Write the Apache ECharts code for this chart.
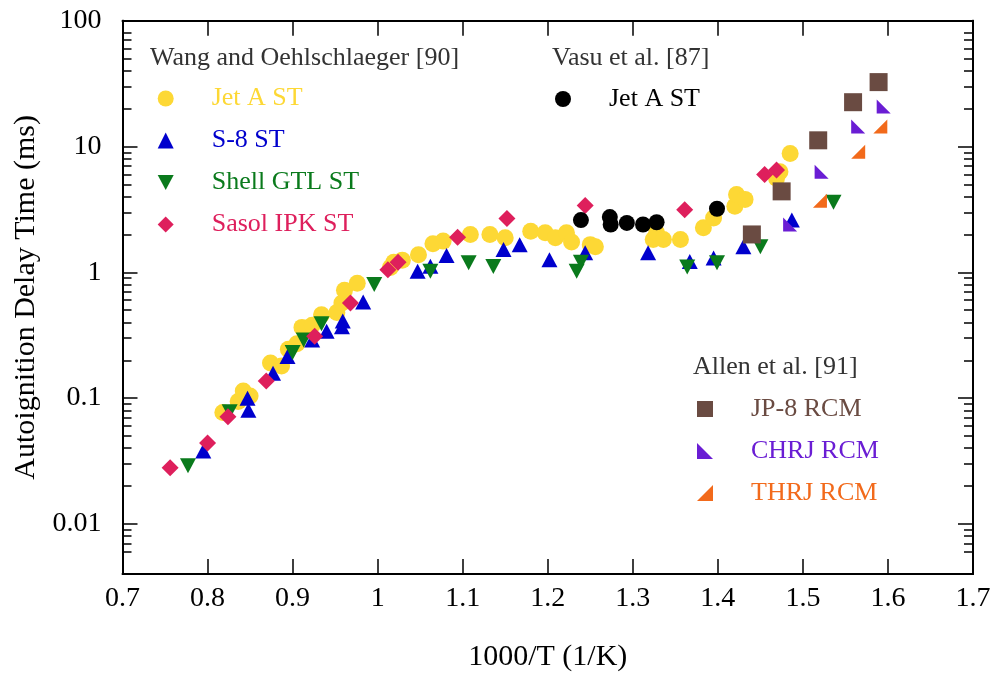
<!DOCTYPE html>
<html>
<head>
<meta charset="utf-8">
<script src="https://cdn.jsdelivr.net/npm/echarts@6/dist/echarts.min.js"></script>
<style>
  html, body { margin: 0; padding: 0; background: #fff; }
  #main { width: 995px; height: 679px; }
</style>
</head>
<body>
<div id="main"></div>
<script>
// [1000/T, delay (ms)]
var jetAWang = [
  [0.818,0.077],[0.836,0.094],[0.842,0.114],[0.850,0.104],[0.874,0.19],[0.887,0.18],
  [0.895,0.245],[0.905,0.27],[0.911,0.365],[0.923,0.38],[0.934,0.46],[0.952,0.48],
  [0.958,0.57],[0.961,0.72],[0.976,0.82],[1.015,1.09],[1.019,1.2],[1.029,1.25],
  [1.048,1.38],[1.065,1.69],[1.077,1.77],[1.109,2.0],[1.132,2.0],[1.150,1.88],
  [1.180,2.12],[1.197,2.06],[1.209,1.88],[1.222,2.06],[1.228,1.74],[1.250,1.66],
  [1.256,1.6],[1.324,1.82],[1.328,2.06],[1.336,1.82],[1.356,1.82],[1.383,2.26],
  [1.395,2.7],[1.420,3.35],[1.422,4.15],[1.432,3.8],[1.469,5.6],[1.473,6.3],[1.485,8.8]
];
var s8 = [
  [0.795,0.038],[0.847,0.10],[0.848,0.080],[0.877,0.158],[0.894,0.214],[0.923,0.29],
  [0.940,0.34],[0.958,0.37],[0.959,0.41],[0.983,0.58],[1.047,1.02],[1.062,1.12],
  [1.081,1.36],[1.148,1.52],[1.167,1.66],[1.202,1.26],[1.244,1.43],[1.318,1.43],
  [1.367,1.22],[1.395,1.3],[1.430,1.6],[1.487,2.6]
];
var shellGtl = [
  [0.777,0.029],[0.826,0.078],[0.900,0.23],[0.913,0.29],[0.934,0.39],[0.996,0.80],
  [1.062,1.02],[1.107,1.19],[1.136,1.11],[1.234,1.02],[1.239,1.2],[1.364,1.1],
  [1.399,1.19],[1.450,1.6],[1.536,3.6]
];
var sasolIpk = [
  [0.756,0.028],[0.800,0.044],[0.824,0.071],[0.869,0.137],[0.926,0.31],[0.968,0.57],
  [1.012,1.05],[1.024,1.2],[1.094,1.9],[1.152,2.68],[1.244,3.39],[1.361,3.15],
  [1.455,6.0],[1.469,6.5]
];
var jetAVasu = [
  [1.239,2.6],[1.273,2.75],[1.274,2.4],[1.293,2.47],[1.312,2.4],[1.328,2.5],[1.399,3.2]
];
var jp8 = [[1.440,2.0],[1.475,4.4],[1.518,11.2],[1.559,22.5],[1.589,32.5]];
var chrj = [[1.485,2.4],[1.522,6.3],[1.565,14.4],[1.595,20.8]];
var thrj = [[1.520,3.7],[1.565,9.1],[1.591,14.4]];

var yMajor = [0.01, 0.1, 1, 10, 100];
var yMinor = [0.005,0.006,0.007,0.008,0.009,
  0.02,0.03,0.04,0.05,0.06,0.07,0.08,0.09,
  0.2,0.3,0.4,0.5,0.6,0.7,0.8,0.9,
  2,3,4,5,6,7,8,9,
  20,30,40,50,60,70,80,90];

var FONT = '"Liberation Serif", "Times New Roman", serif';
var C = {
  yellow: '#fdd835', blue: '#0000cd', green: '#0a7a1c', red: '#de1f5c',
  black: '#000000', brown: '#6a4b42', purple: '#6a1dd4', orange: '#f26a1b'
};
var triDown = 'path://M0,0 L10,0 L5,9.4 Z';
var triLeft = 'path://M0,0 L0,10 L10,10 Z';
var triRight = 'path://M10,0 L10,10 L0,10 Z';

function yAx(pos, ticks, len, labels) {
  return {
    type: 'log', position: pos, min: 0.004, max: 100,
    axisLine: { show: true, onZero: false, lineStyle: { color: '#000', width: 2 } },
    axisTick: { show: true, inside: true, length: len, customValues: ticks,
      lineStyle: { color: '#000', width: 1.5 } },
    axisLabel: { show: true, customValues: ticks, margin: 21, fontSize: 28,
      color: labels ? '#000' : 'rgba(0,0,0,0)', fontFamily: FONT },
    splitLine: { show: false }
  };
}
function xAx(pos, labels) {
  return {
    type: 'value', position: pos, min: 0.7, max: 1.7, interval: 0.1,
    axisLine: { show: true, onZero: false, lineStyle: { color: '#000', width: 2 } },
    axisTick: { show: true, inside: true, length: 15, lineStyle: { color: '#000', width: 1.5 } },
    axisLabel: labels ? { show: true, margin: 11, fontSize: 28, color: '#000', fontFamily: FONT } : { show: false },
    splitLine: { show: false }
  };
}

var myChart = echarts.init(document.getElementById('main'));

var xBottom = xAx('bottom', true);
xBottom.name = '1000/T (1/K)';
xBottom.nameLocation = 'middle';
xBottom.nameGap = 68;
xBottom.nameTextStyle = { fontSize: 30, color: '#000', fontFamily: FONT };

var yLeft = yAx('left', yMajor, 15, true);
yLeft.name = 'Autoignition Delay Time (ms)';
yLeft.nameLocation = 'middle';
yLeft.nameGap = 80;
yLeft.nameTextStyle = { fontSize: 30, color: '#000', fontFamily: FONT };

function ser(name, data, symbol, size, color, yIdx) {
  return {
    name: name, type: 'scatter', data: data, symbol: symbol, symbolSize: size,
    itemStyle: { color: color, opacity: 1 }, xAxisIndex: 0, yAxisIndex: yIdx || 0
  };
}

function legendItems(names, colors) {
  return names.map(function (n, i) { return { name: n, textStyle: { color: colors[i] } }; });
}
function legend(left, top, names, colors) {
  return {
    orient: 'vertical', left: left, top: top, padding: 0, itemGap: 16,
    itemWidth: 16, itemHeight: 16, selectedMode: false,
    textStyle: { fontSize: 26, lineHeight: 26, fontFamily: FONT, padding: [0, 0, 0, 33] },
    data: legendItems(names, colors)
  };
}

var option = {
  animation: false,
  backgroundColor: '#fff',
  textStyle: { fontFamily: FONT },
  grid: { left: 122.5, right: 22, top: 20.7, bottom: 105, containLabel: false, outerBoundsMode: 'none' },
  xAxis: [xBottom, xAx('top', false)],
  yAxis: [yLeft, yAx('left', yMinor, 9, false), yAx('right', yMajor, 15, false), yAx('right', yMinor, 9, false)],
  legend: [
    legend(157.7, 85.5, ['Jet A ST', 'S-8 ST', 'Shell GTL ST', 'Sasol IPK ST'],
      [C.yellow, C.blue, C.green, C.red]),
    legend(555, 86, ['Jet A ST '], [C.black]),
    legend(697, 396, ['JP-8 RCM', 'CHRJ RCM', 'THRJ RCM'], [C.brown, C.purple, C.orange])
  ],
  graphic: [
    { type: 'text', x: 150, y: 58, style: { text: 'Wang and Oehlschlaeger [90]', fill: '#333',
      font: '26px ' + FONT, verticalAlign: 'middle' } },
    { type: 'text', x: 552, y: 58, style: { text: 'Vasu et al. [87]', fill: '#333',
      font: '26px ' + FONT, verticalAlign: 'middle' } },
    { type: 'text', x: 693, y: 367, style: { text: 'Allen et al. [91]', fill: '#333',
      font: '26px ' + FONT, verticalAlign: 'middle' } }
  ],
  series: [
    ser('Jet A ST', jetAWang, 'circle', 17, C.yellow),
    ser('S-8 ST', s8, 'triangle', [16, 15], C.blue),
    ser('Shell GTL ST', shellGtl, triDown, [16, 15], C.green),
    ser('Sasol IPK ST', sasolIpk, 'diamond', 17, C.red),
    ser('Jet A ST ', jetAVasu, 'circle', 16, C.black),
    ser('JP-8 RCM', jp8, 'rect', 18, C.brown),
    ser('CHRJ RCM', chrj, triLeft, 14, C.purple),
    ser('THRJ RCM', thrj, triRight, 14, C.orange),
    // empty series keep the tick-only axes alive
    { type: 'scatter', data: [], yAxisIndex: 1, silent: true },
    { type: 'scatter', data: [], yAxisIndex: 2, silent: true },
    { type: 'scatter', data: [], yAxisIndex: 3, silent: true }
  ]
};
myChart.setOption(option);
</script>
</body>
</html>
